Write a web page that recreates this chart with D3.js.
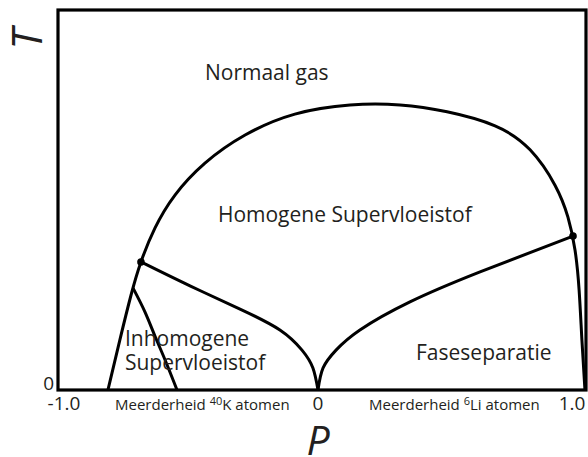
<!DOCTYPE html>
<html>
<head>
<meta charset="utf-8">
<script src="https://cdn.jsdelivr.net/npm/d3@7"></script>
<style>
  body { margin: 0; background: #fff; }
  svg text { font-family: "Open Sans", sans-serif; fill: #231f20; }
</style>
</head>
<body>
<svg id="chart" width="588" height="457"></svg>
<script>
// phase boundaries, [P, T]
const outerBoundary = [
  [-0.827, 0], [-0.780, 0.132], [-0.736, 0.250], [-0.697, 0.337], [-0.642, 0.426],
  [-0.563, 0.513], [-0.445, 0.597], [-0.287, 0.671], [-0.091, 0.726], [0.126, 0.750],
  [0.323, 0.750], [0.508, 0.732], [0.697, 0.695], [0.835, 0.632], [0.933, 0.539],
  [0.984, 0.455], [1.012, 0.368], [1.028, 0.263], [1.039, 0.132], [1.051, 0]
]
const leftBranch = [
  [-0.697, 0.337], [-0.504, 0.274], [-0.307, 0.213], [-0.150, 0.158],
  [-0.063, 0.105], [-0.020, 0.058], [0, 0]
]
const rightBranch = [
  [0, 0], [0.020, 0.058], [0.071, 0.105], [0.165, 0.158], [0.362, 0.232],
  [0.638, 0.311], [1.004, 0.405]
]
const inhomogeneBoundary = [
  [-0.728, 0.268], [-0.681, 0.205], [-0.642, 0.142], [-0.602, 0.079], [-0.555, 0]
]
const triplePoints = [[-0.697, 0.337], [1.004, 0.405]]

// labels
const xTicks = [-1, 0, 1]
const xTickLabels = ['-1.0', '0', '1.0']
const regionLabels = [
  { lines: ['Normaal gas'], p: -0.445, t: 0.815 },
  { lines: ['Homogene Supervloeistof'], p: -0.394, t: 0.442 },
  { lines: ['Inhomogene', 'Supervloeistof'], p: -0.760, t: 0.115 },
  { lines: ['Faseseparatie'], p: 0.386, t: 0.079 }
]

const svg = d3.select('#chart')
const frame = { left: 58, right: 586, top: 10, bottom: 390 }

let x = d3.scaleLinear().domain([-1, 1]).range([64, 572])
let y = d3.scaleLinear().domain([0, 1]).range([frame.bottom, frame.top])

let line = d3.line()
  .x(d => x(d[0]))
  .y(d => y(d[1]))
  .curve(d3.curveNatural)

// curves
svg.selectAll('path.curve')
  .data([outerBoundary, leftBranch, rightBranch, inhomogeneBoundary])
  .enter()
  .append('path')
  .attr('class', 'curve')
  .attr('d', line)
  .attr('fill', 'none')
  .attr('stroke', '#000')
  .attr('stroke-width', 3)

svg.selectAll('circle')
  .data(triplePoints)
  .enter()
  .append('circle')
  .attr('cx', d => x(d[0]))
  .attr('cy', d => y(d[1]))
  .attr('r', 3.8)
  .attr('fill', '#000')

// frame
svg.append('rect')
  .attr('x', frame.left)
  .attr('y', frame.top)
  .attr('width', frame.right - frame.left)
  .attr('height', frame.bottom - frame.top)
  .attr('fill', 'none')
  .attr('stroke', '#000')
  .attr('stroke-width', 3.2)

// tick labels
svg.selectAll('text.xtick')
  .data(xTicks)
  .enter()
  .append('text')
  .attr('class', 'xtick')
  .attr('x', d => x(d))
  .attr('y', 410)
  .attr('text-anchor', 'middle')
  .attr('font-size', '19px')
  .text((d, i) => xTickLabels[i])

svg.append('text')
  .attr('x', 54)
  .attr('y', y(0))
  .attr('text-anchor', 'end')
  .attr('font-size', '19px')
  .text('0')

// sub-axis captions
let cap1 = svg.append('text').attr('x', 115).attr('y', 410).attr('font-size', '15px')
cap1.append('tspan').text('Meerderheid ')
cap1.append('tspan').attr('font-size', '11px').attr('dy', -5).text('40')
cap1.append('tspan').attr('dy', 5).text('K atomen')

let cap2 = svg.append('text').attr('x', 369).attr('y', 410).attr('font-size', '15px')
cap2.append('tspan').text('Meerderheid ')
cap2.append('tspan').attr('font-size', '11px').attr('dy', -5).text('6')
cap2.append('tspan').attr('dy', 5).text('Li atomen')

// region labels
regionLabels.forEach(r => {
  let t = svg.append('text')
    .attr('x', x(r.p))
    .attr('y', y(r.t))
    .attr('font-size', '21px')
  r.lines.forEach((l, i) => {
    t.append('tspan').attr('x', x(r.p)).attr('dy', i === 0 ? 0 : 24).text(l)
  })
})

// axis titles
svg.append('text')
  .attr('transform', 'translate(42, 39) rotate(-90)')
  .attr('text-anchor', 'middle')
  .attr('font-size', '42px')
  .attr('font-style', 'italic')
  .text('T')

svg.append('text')
  .attr('x', 318)
  .attr('y', 455)
  .attr('text-anchor', 'middle')
  .attr('font-size', '41px')
  .attr('font-style', 'italic')
  .text('P')
</script>
</body>
</html>
